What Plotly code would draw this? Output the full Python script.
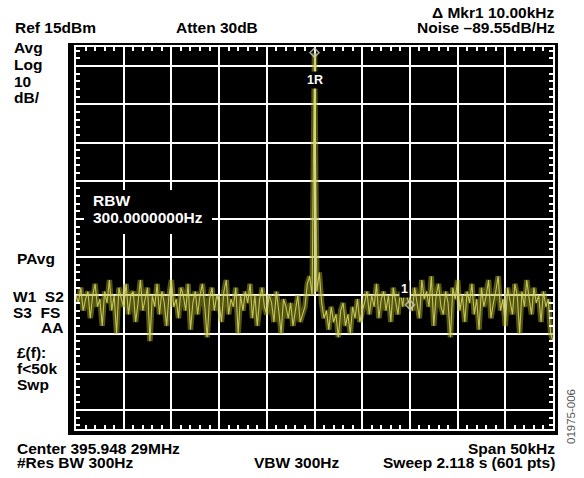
import plotly.graph_objects as go
import numpy as np

# ---- instrument settings ----
ref_level_dbm = 15
db_per_div = 10
n_div = 10
span_khz = 50

# ---- trace values (dBm), 0.25 kHz apart ----
noise_left = [
    -50, -52, -48, -54, -51, -49, -56, -50, -47, -53,
    -51, -58, -49, -52, -46, -54, -50, -60, -48, -51,
    -53, -47, -55, -50, -49, -57, -52, -46, -54, -51,
    -48, -62, -50, -53, -47, -55, -49, -52, -58, -50,
    -46, -53, -51, -56, -48, -50, -54, -47, -59, -52,
    -49, -55, -50, -47, -53, -61, -51, -48, -54, -50,
    -52, -57, -49, -46, -55, -51, -53, -48, -60, -50,
    -54, -49, -52, -47, -56, -50, -58, -51, -48, -53,
    -55, -50, -52, -57, -49, -54, -60, -51, -53, -56,
    -52, -58, -54, -50, -57, -55, -53, -47, -45, -50,
]
peak_level = [13.5]
noise_right = [
    -49, -44, -52, -56, -54, -59, -53, -57, -55, -61,
    -54, -52, -58, -55, -60, -53, -56, -51, -57, -54,
    -52, -49, -55, -50, -53, -47, -56, -51, -49, -54,
    -50, -57, -48, -52, -55, -49, -53, -47, -51, -52.5,
    -54, -48, -52, -56, -46, -51, -49, -53, -45, -58,
    -50, -47, -53, -55, -49, -52, -61, -48, -51, -46,
    -54, -50, -57, -49, -52, -47, -55, -51, -59, -48,
    -53, -50, -46, -56, -52, -49, -45, -54, -51, -58,
    -48, -52, -55, -47, -50, -60, -49, -53, -46, -51,
    -55, -48, -52, -50, -57, -49, -53, -51, -60, -62,
]
levels = noise_left + peak_level + noise_right
freq_khz = np.linspace(-span_khz / 2, span_khz / 2, len(levels))

marker_freq = [0, 10]
marker_level = [13.5, -52.5]
marker_names = ["1R", "1"]

y_top = ref_level_dbm
y_bot = ref_level_dbm - db_per_div * n_div

# ---- layout geometry (pixels) ----
W, H = 584, 478
L, R, T, B = 76, 553, 47, 429
pw, ph = R - L, B - T


def px(x):
    return (x - L) / pw


def py(y):
    return 1 - (y - T) / ph


FONT = "Liberation Sans, Arial, Helvetica, sans-serif"
fig = go.Figure()

# glow + core of the trace
fig.add_trace(go.Scatter(x=freq_khz, y=levels, mode="lines",
                         line=dict(color="rgba(165,165,35,0.5)", width=5.5),
                         hoverinfo="skip", showlegend=False))
fig.add_trace(go.Scatter(x=freq_khz, y=levels, mode="lines",
                         line=dict(color="rgba(215,215,100,0.85)", width=1.1),
                         showlegend=False))
fig.add_trace(go.Scatter(x=marker_freq, y=marker_level, mode="markers",
                         marker=dict(symbol="diamond-open", size=7,
                                     color="rgba(200,200,200,0.8)",
                                     line=dict(width=1.5)),
                         showlegend=False))

# black bezel around grid
fig.add_shape(type="rect", xref="paper", yref="paper",
              x0=px(68), x1=px(558), y0=py(435), y1=py(43),
              fillcolor="black", line=dict(width=0), layer="below")
# RBW box
fig.add_shape(type="rect", xref="paper", yref="paper",
              x0=px(84), x1=px(212), y0=py(234), y1=py(190),
              fillcolor="black", line=dict(width=0), layer="above")

ann = []


def txt(s, x, y, anchor="left", size=15.5, color="black", **kw):
    ann.append(dict(text=s, x=px(x), y=py(y), xref="paper", yref="paper",
                    xanchor=anchor, yanchor="middle", showarrow=False,
                    borderpad=0,
                    font=dict(family=FONT, size=size, color=color, weight="bold"),
                    **kw))


txt("\u0394 Mkr1 10.00kHz", 556, 12, "right")
txt("Ref 15dBm", 14, 27)
txt("Atten 30dB", 175, 27)
txt("Noise \u201389.55dB/Hz", 556, 27, "right")
for s, yy in [("Avg", 47), ("Log", 64), ("10", 81), ("dB/", 98)]:
    txt(s, 13, yy)
txt("PAvg", 16, 258)
txt("W1\u00a0\u00a0S2", 12, 296)
txt("S3\u00a0\u00a0FS", 12, 312)
txt("AA", 64, 327, "right")
txt("\u00a3(f):", 16, 352)
txt("f<50k", 16, 368)
txt("Swp", 16, 384)
txt("Center 395.948 29MHz", 16, 448)
txt("#Res BW 300Hz", 16, 462.5)
txt("VBW 300Hz", 297, 462.5, "center")
txt("Span 50kHz", 556, 448, "right")
txt("Sweep 2.118 s (601 pts)", 556, 462.5, "right")
txt("RBW", 92, 200, color="white")
txt("300.0000000Hz", 92, 217.5, color="white")
ann.append(dict(text="01975-006", x=px(571), y=py(417), xref="paper", yref="paper",
                xanchor="center", yanchor="middle",
                textangle=-90, showarrow=False,
                font=dict(family=FONT, size=11.5, color="#555555")))
# marker labels
for name, xx, yy in [(marker_names[0], 315, 71), (marker_names[1], 410, 289)]:
    ann.append(dict(text=name, x=px(xx), y=py(yy), xref="paper", yref="paper",
                    showarrow=False, bgcolor="black", borderpad=1,
                    font=dict(family=FONT, size=12.5, color="white", weight="bold")))

axis_common = dict(showgrid=True, gridcolor="white", gridwidth=2,
                   showline=True, linecolor="white", linewidth=2, mirror="allticks",
                   ticks="inside", ticklen=0, tickcolor="white",
                   showticklabels=False, zeroline=False, fixedrange=True)

fig.update_layout(
    width=W, height=H,
    margin=dict(l=L, r=W - R, t=T, b=H - B, pad=0),
    paper_bgcolor="white", plot_bgcolor="black",
    xaxis=dict(range=[-span_khz / 2, span_khz / 2], dtick=span_khz / n_div,
               minor=dict(ticks="inside", ticklen=4, dtick=1, tickcolor="white",
                          tickwidth=1.5, showgrid=False),
               **axis_common),
    yaxis=dict(range=[y_bot, y_top], dtick=db_per_div,
               minor=dict(ticks="inside", ticklen=4, dtick=2, tickcolor="white",
                          tickwidth=1.5, showgrid=False),
               **axis_common),
    annotations=ann,
    showlegend=False,
)

fig.write_html("out.html", config={"displayModeBar": False},
               post_script="document.body.style.margin='0px';document.body.style.overflow='hidden';")
